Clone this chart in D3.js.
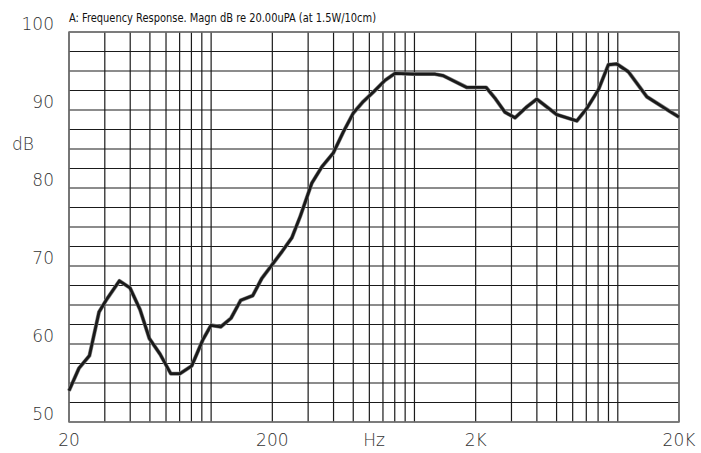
<!DOCTYPE html>
<html lang="en">
<head>
    <meta charset="UTF-8">
    <title>Frequency Response</title>
    <script src="https://cdnjs.cloudflare.com/ajax/libs/d3/7.8.5/d3.min.js"></script>
    <style>
        body { margin: 0; background: #fff; }
        svg { display: block; }
        .lbl { font-family: "DejaVu Sans", sans-serif; font-size: 17px; font-weight: 200; fill: #333; }
        .title { font-family: "Liberation Sans Narrow", "DejaVu Sans Condensed", "Liberation Sans", sans-serif; font-size: 13px; fill: #111; }
    </style>
</head>
<body>
<svg width="701" height="453"></svg>
<script>
    const freqHz = [20, 22.4, 25.2, 28.1, 30.6, 35.4, 39.9, 44.7, 49.7, 56.1, 63.3, 70.3, 80.3, 90.9, 99.9,
        111.4, 125.2, 139.8, 160.2, 177.4, 198.6, 222.5, 249.2, 273.8, 293, 312.5, 350, 399, 447, 500,
        560.6, 628, 716, 802.6, 987.5, 1262, 1387, 1808, 2250, 2492, 2790, 3124, 3568, 3995, 5012,
        6287, 7040, 8028, 8990, 9886, 11274, 13890, 18080, 20000];
    const levelDb = [54.0, 56.9, 58.5, 64.1, 65.7, 68.1, 67.2, 64.4, 60.7, 58.7, 56.2, 56.2, 57.2, 60.5, 62.4,
        62.2, 63.3, 65.6, 66.2, 68.4, 70.1, 71.8, 73.6, 76.3, 78.5, 80.6, 82.7, 84.5, 87.2, 89.6,
        91.1, 92.3, 93.8, 94.7, 94.6, 94.6, 94.4, 92.9, 92.9, 91.5, 89.7, 89.0, 90.4, 91.4, 89.4,
        88.6, 90.2, 92.6, 95.8, 95.9, 94.9, 91.7, 89.8, 89.1];

    const yTickValues = [50, 60, 70, 80, 90, 100];
    const xTickLabels = [[20, "20"], [200, "200"], [2000, "2K"], [20000, "20K"]];
    const titleText = "A: Frequency Response. Magn dB re 20.00uPA  (at 1.5W/10cm)";

    const svg = d3.select("svg");
    const plotLeft = 69, plotRight = 679, plotTop = 32, plotBottom = 422;

    const x = d3.scaleLog().domain([20, 20000]).range([plotLeft, plotRight]);
    const y = d3.scaleLinear().domain([50, 100]).range([plotBottom, plotTop]);

    // grid
    const grid = svg.append("g");
    grid.selectAll(".vline")
        .data(x.ticks())
        .enter()
        .append("line")
        .attr("x1", d => x(d)).attr("x2", d => x(d))
        .attr("y1", plotTop).attr("y2", plotBottom)
        .attr("stroke", "#1a1a1a").attr("stroke-width", 1.2);
    grid.selectAll(".hline")
        .data(d3.range(50, 100.1, 2.5))
        .enter()
        .append("line")
        .attr("x1", plotLeft).attr("x2", plotRight)
        .attr("y1", d => y(d)).attr("y2", d => y(d))
        .attr("stroke", "#1a1a1a").attr("stroke-width", 1.2);
    grid.append("rect")
        .attr("x", plotLeft).attr("y", plotTop)
        .attr("width", plotRight - plotLeft).attr("height", plotBottom - plotTop)
        .attr("fill", "none").attr("stroke", "#777").attr("stroke-width", 1.5);

    // curve
    const line = d3.line()
        .x((d, i) => x(freqHz[i]))
        .y(d => y(d));
    svg.append("path")
        .datum(levelDb)
        .attr("d", line)
        .attr("fill", "none")
        .attr("stroke", "#888")
        .attr("stroke-width", 4)
        .attr("stroke-linejoin", "round");
    svg.append("path")
        .datum(levelDb)
        .attr("d", line)
        .attr("fill", "none")
        .attr("stroke", "#1a1a1a")
        .attr("stroke-width", 2.8)
        .attr("stroke-linejoin", "round");

    // labels
    svg.selectAll(".ylab")
        .data(yTickValues)
        .enter()
        .append("text")
        .attr("class", "lbl")
        .attr("x", 54)
        .attr("y", d => y(d) - 2)
        .attr("text-anchor", "end")
        .text(d => d);
    svg.append("text").attr("class", "lbl")
        .attr("x", 12).attr("y", y(85) + 1)
        .text("dB");

    svg.selectAll(".xlab")
        .data(xTickLabels)
        .enter()
        .append("text")
        .attr("class", "lbl")
        .attr("x", d => x(d[0]))
        .attr("y", 446)
        .attr("text-anchor", "middle")
        .text(d => d[1]);
    svg.append("text").attr("class", "lbl")
        .attr("x", 374).attr("y", 446)
        .attr("text-anchor", "middle")
        .text("Hz");

    svg.append("text").attr("class", "title")
        .attr("x", 69).attr("y", 22)
        .attr("textLength", 307)
        .attr("lengthAdjust", "spacingAndGlyphs")
        .text(titleText);
</script>
</body>
</html>
